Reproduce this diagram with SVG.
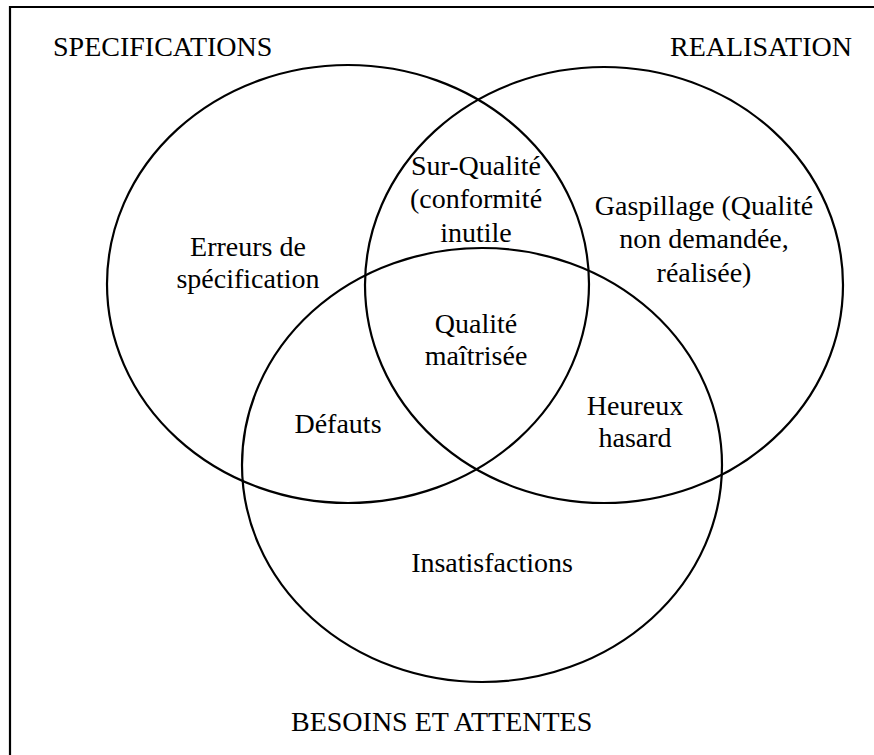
<svg xmlns="http://www.w3.org/2000/svg" width="874" height="755" viewBox="0 0 874 755">
<style>
.c{fill:none;stroke:#000;stroke-width:2.2}
.t{font-family:"Liberation Serif","Times New Roman",serif;font-size:28px;fill:#000}
.m{text-anchor:middle}
</style>
<rect x="0" y="0" width="874" height="755" fill="#fff"/>
<path d="M10,760 V7 H880" fill="none" stroke="#000" stroke-width="2.2"/>
<g id="specifications">
<ellipse class="c" cx="348" cy="284" rx="241" ry="219"/>
<text class="t" x="53" y="56">SPECIFICATIONS</text>
</g>
<g id="realisation">
<ellipse class="c" cx="604" cy="285" rx="239" ry="218"/>
<text class="t" x="852" y="56" text-anchor="end">REALISATION</text>
</g>
<g id="besoins">
<ellipse class="c" cx="482" cy="465" rx="240" ry="217"/>
<text class="t" x="291" y="731">BESOINS ET ATTENTES</text>
</g>
<g id="erreurs">
<text class="t m" x="248" y="256">Erreurs de</text>
<text class="t m" x="248" y="288">spécification</text>
</g>
<g id="surqualite">
<text class="t m" x="476" y="175">Sur-Qualité</text>
<text class="t m" x="476" y="208">(conformité</text>
<text class="t m" x="476" y="242">inutile</text>
</g>
<g id="gaspillage">
<text class="t m" x="704" y="215">Gaspillage (Qualité</text>
<text class="t m" x="704" y="248">non demandée,</text>
<text class="t m" x="704" y="282">réalisée)</text>
</g>
<g id="qualite">
<text class="t m" x="476" y="333">Qualité</text>
<text class="t m" x="476" y="365">maîtrisée</text>
</g>
<g id="defauts">
<text class="t m" x="338" y="433">Défauts</text>
</g>
<g id="heureux">
<text class="t m" x="635" y="415">Heureux</text>
<text class="t m" x="635" y="447">hasard</text>
</g>
<g id="insatisfactions">
<text class="t m" x="492" y="572">Insatisfactions</text>
</g>
<g id="connectors"></g>
</svg>
